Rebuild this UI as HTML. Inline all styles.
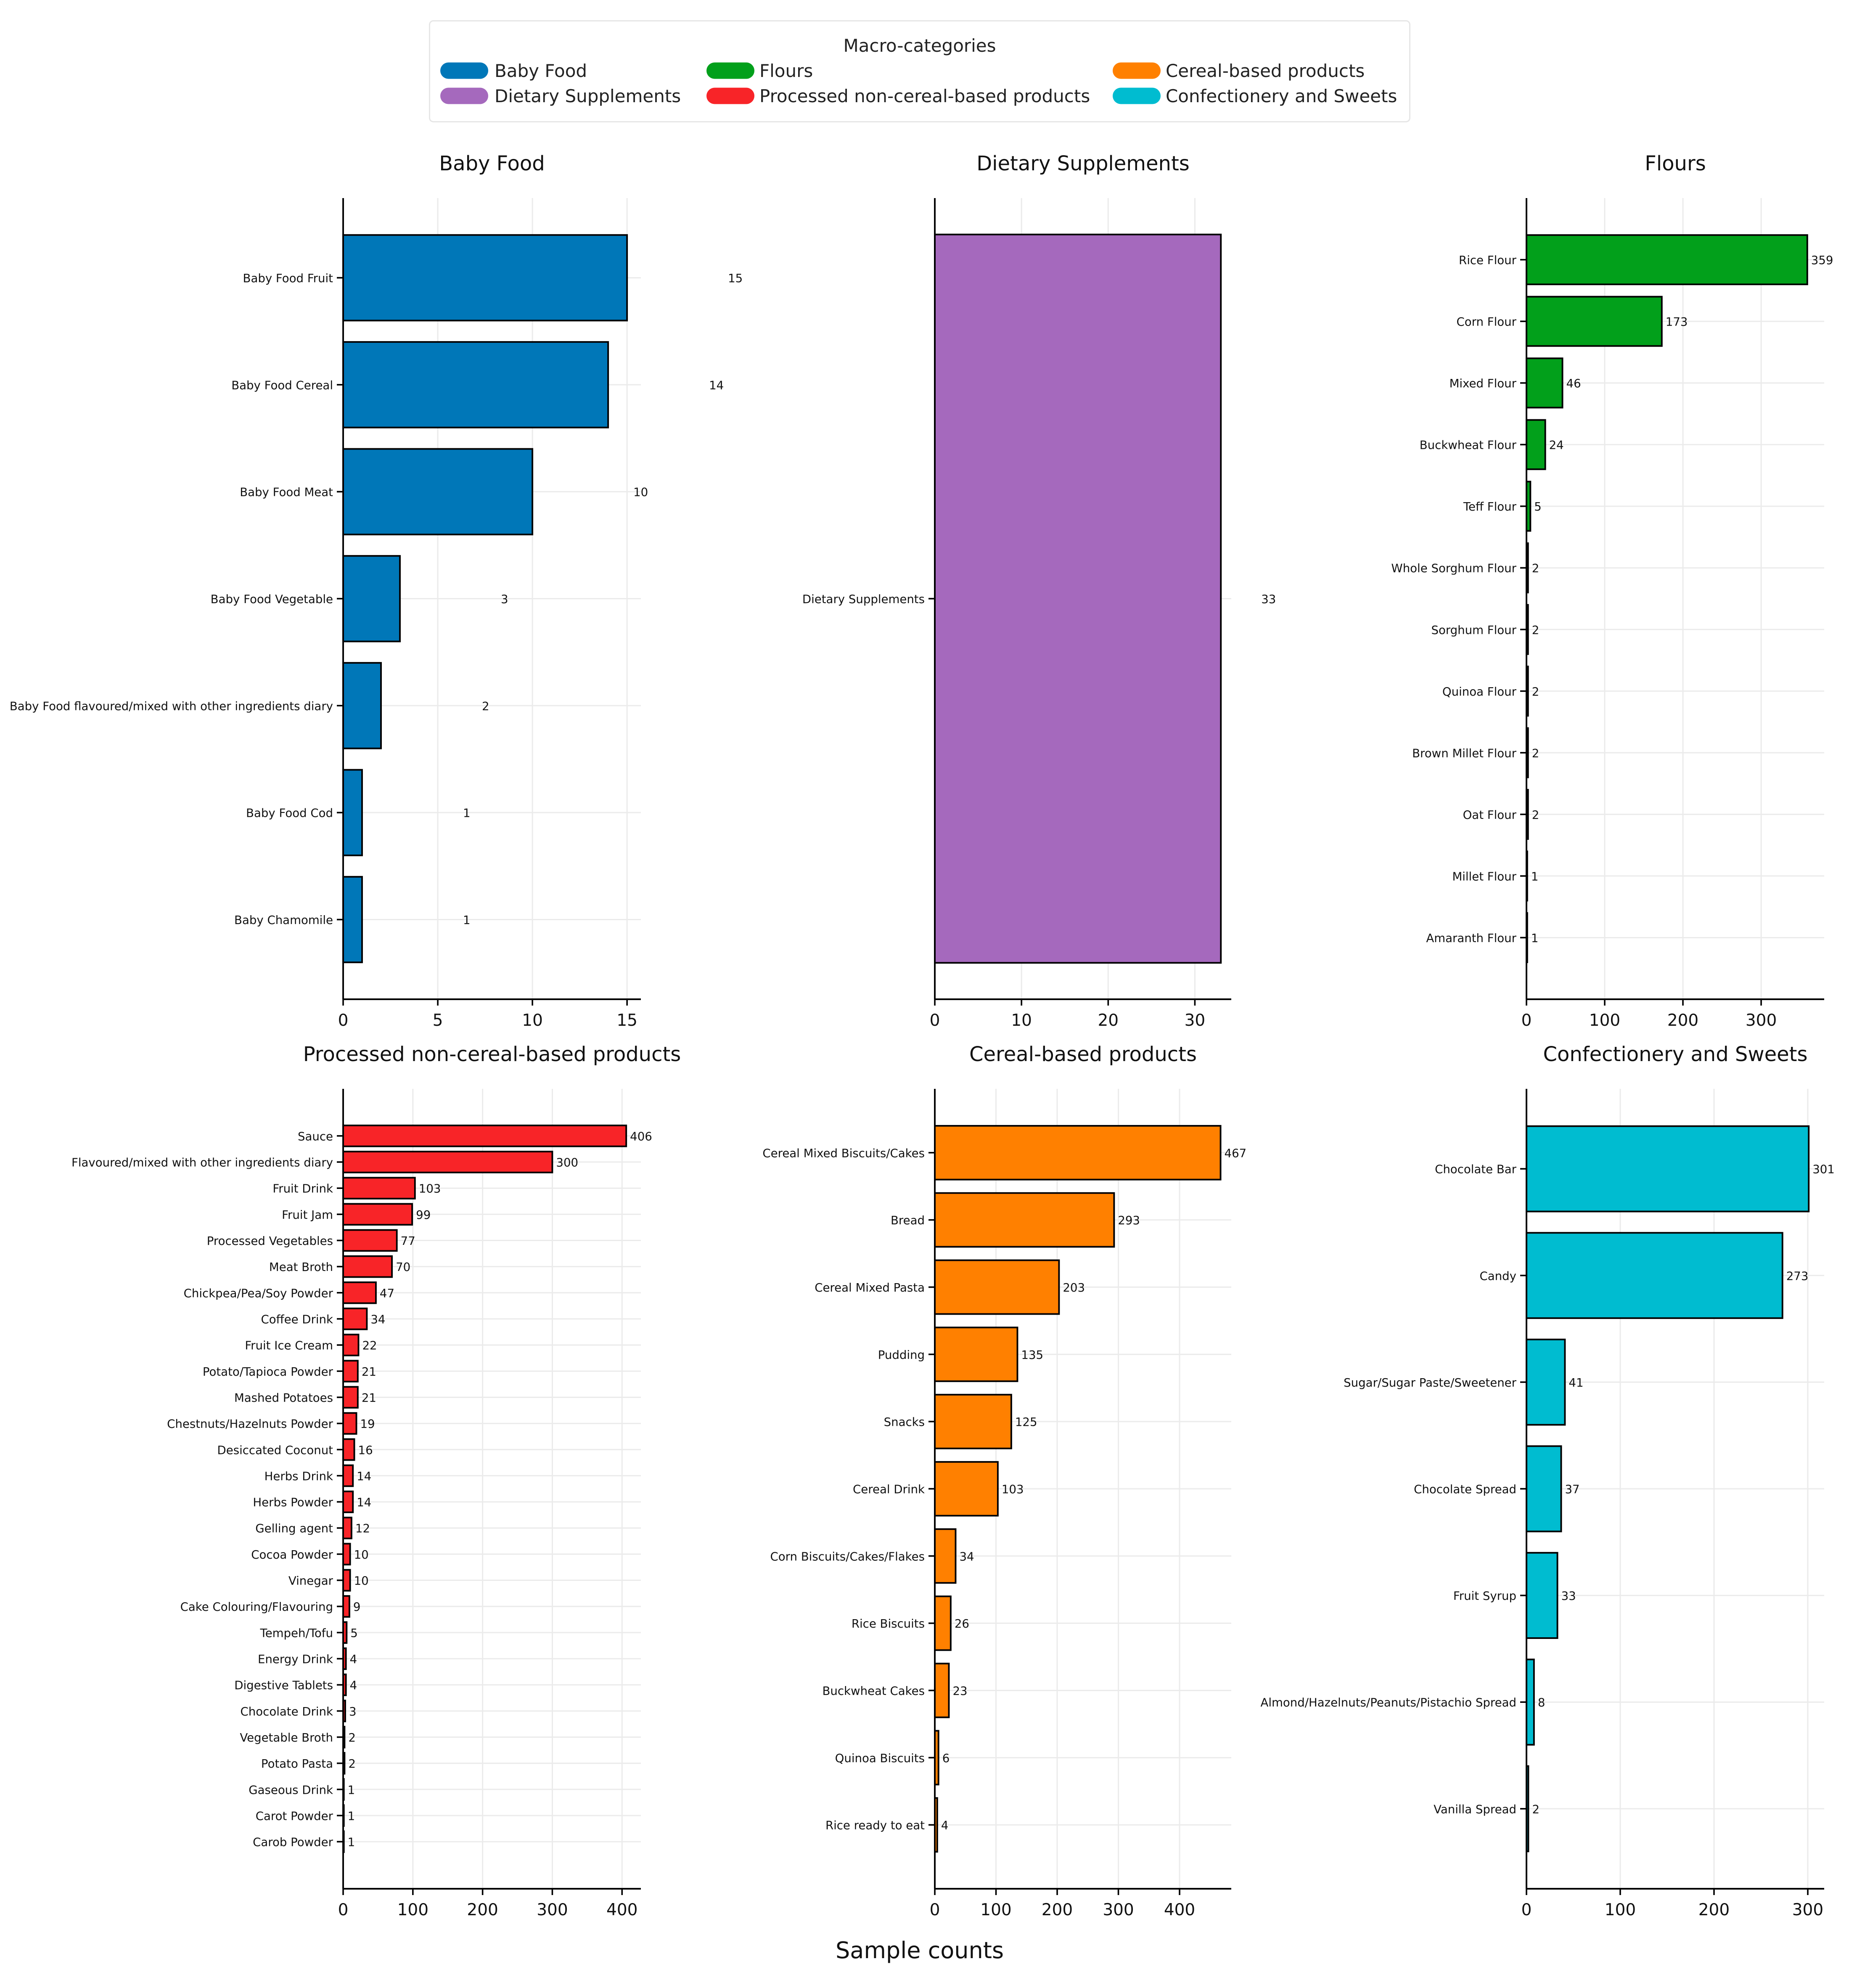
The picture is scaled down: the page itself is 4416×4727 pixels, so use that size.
<!DOCTYPE html>
<html><head><meta charset="utf-8"><style>
html,body{margin:0;padding:0;background:#fff}
svg{display:block;font-family:"DejaVu Sans","Liberation Sans",sans-serif}
</style></head><body>
<svg id="chart" width="4416" height="4727" viewBox="0 0 1472 1575.67" xmlns="http://www.w3.org/2000/svg">
<rect x="0" y="0" width="1472" height="1576" fill="#fff"/>
<g>
<rect x="340.5" y="16.5" width="777" height="80" rx="3" fill="#fff" stroke="#e6e6e6"/>
<text x="729" y="41" font-size="14" text-anchor="middle" fill="#222">Macro-categories</text>
<g><rect x="349" y="49.5" width="38" height="13" rx="6.5" fill="#0077b8"/><text x="392" y="61" font-size="14" fill="#222">Baby Food</text></g>
<g><rect x="560" y="49.5" width="38" height="13" rx="6.5" fill="#02a01b"/><text x="602" y="61" font-size="14" fill="#222">Flours</text></g>
<g><rect x="882" y="49.5" width="38" height="13" rx="6.5" fill="#ff8000"/><text x="924" y="61" font-size="14" fill="#222">Cereal-based products</text></g>
<g><rect x="349" y="69.5" width="38" height="13" rx="6.5" fill="#a569bd"/><text x="392" y="81" font-size="14" fill="#222">Dietary Supplements</text></g>
<g><rect x="560" y="69.5" width="38" height="13" rx="6.5" fill="#f82428"/><text x="602" y="81" font-size="14" fill="#222">Processed non-cereal-based products</text></g>
<g><rect x="882" y="69.5" width="38" height="13" rx="6.5" fill="#00bcd0"/><text x="924" y="81" font-size="14" fill="#222">Confectionery and Sweets</text></g>
</g>
<text x="729" y="1552" font-size="18" text-anchor="middle" fill="#111">Sample counts</text>
</svg>
<script>
const babyCats=["Baby Food Fruit","Baby Food Cereal","Baby Food Meat","Baby Food Vegetable","Baby Food flavoured/mixed with other ingredients diary","Baby Food Cod","Baby Chamomile"];
const babyVals=[15,14,10,3,2,1,1];
const babyTicks=[0,5,10,15];
const dietCats=["Dietary Supplements"];
const dietVals=[33];
const dietTicks=[0,10,20,30];
const flourCats=["Rice Flour","Corn Flour","Mixed Flour","Buckwheat Flour","Teff Flour","Whole Sorghum Flour","Sorghum Flour","Quinoa Flour","Brown Millet Flour","Oat Flour","Millet Flour","Amaranth Flour"];
const flourVals=[359,173,46,24,5,2,2,2,2,2,1,1];
const flourTicks=[0,100,200,300];
const procCats=["Sauce","Flavoured/mixed with other ingredients diary","Fruit Drink","Fruit Jam","Processed Vegetables","Meat Broth","Chickpea/Pea/Soy Powder","Coffee Drink","Fruit Ice Cream","Potato/Tapioca Powder","Mashed Potatoes","Chestnuts/Hazelnuts Powder","Desiccated Coconut","Herbs Drink","Herbs Powder","Gelling agent","Cocoa Powder","Vinegar","Cake Colouring/Flavouring","Tempeh/Tofu","Energy Drink","Digestive Tablets","Chocolate Drink","Vegetable Broth","Potato Pasta","Gaseous Drink","Carot Powder","Carob Powder"];
const procVals=[406,300,103,99,77,70,47,34,22,21,21,19,16,14,14,12,10,10,9,5,4,4,3,2,2,1,1,1];
const procTicks=[0,100,200,300,400];
const cerealCats=["Cereal Mixed Biscuits/Cakes","Bread","Cereal Mixed Pasta","Pudding","Snacks","Cereal Drink","Corn Biscuits/Cakes/Flakes","Rice Biscuits","Buckwheat Cakes","Quinoa Biscuits","Rice ready to eat"];
const cerealVals=[467,293,203,135,125,103,34,26,23,6,4];
const cerealTicks=[0,100,200,300,400];
const confCats=["Chocolate Bar","Candy","Sugar/Sugar Paste/Sweetener","Chocolate Spread","Fruit Syrup","Almond/Hazelnuts/Peanuts/Pistachio Spread","Vanilla Spread"];
const confVals=[301,273,41,37,33,8,2];
const confTicks=[0,100,200,300];

const NS="http://www.w3.org/2000/svg";
const svg=document.getElementById('chart');
function mk(tag,attrs,parent){const e=document.createElementNS(NS,tag);for(const k in attrs)e.setAttribute(k,attrs[k]);parent.appendChild(e);return e;}

function panel(p){
  const g=mk('g',{},svg);
  
  
  const x=v=>p.x0+(v/p.xmax)*(p.x1-p.x0);
  const n=p.cats.length;
  const lo=-p.m, hi=n-1+p.m;
  const y=i=>p.y0+(i-lo)/(hi-lo)*(p.y1-p.y0);
  const band=(p.y1-p.y0)/(hi-lo);
  const t=mk('text',{x:(p.x0+p.x1)/2,y:p.y0-22,'font-size':16,'text-anchor':'middle',fill:'#111'},g);
  t.textContent=p.title;
  
  
  p.ticks.forEach(v=>{
    const gl=mk('line',{x1:x(v),x2:x(v),y1:p.y0,y2:p.y1,stroke:'#ebebeb','stroke-width':1},g);
    
    
  });
  p.cats.forEach((c,i)=>{
    const hl=mk('line',{x1:p.x0,x2:p.x1,y1:y(i),y2:y(i),stroke:'#ebebeb','stroke-width':1},g);
    
    
  });
  p.cats.forEach((c,i)=>{
    const v=p.vals[i];
    const r=mk('rect',{x:p.x0,y:y(i)-band*0.4,width:x(v)-p.x0,height:band*0.8,fill:p.color,stroke:'#000','stroke-width':1.3},g);
    
    
    const tk=mk('line',{x1:p.x0-5,x2:p.x0,y1:y(i),y2:y(i),stroke:'#000','stroke-width':1.2},g);
    
    
    const lb=mk('text',{x:p.x0-8,y:y(i)+3.5,'font-size':9.2,'text-anchor':'end',fill:'#111'},g);
    lb.textContent=c;
    
    
    const vl=mk('text',{x:x(v)+p.off,y:y(i)+3.5,'font-size':9.2,fill:'#111'},g);
    vl.textContent=v;
    
    
  });
  const ya=mk('line',{x1:p.x0,x2:p.x0,y1:p.y0,y2:p.y1,stroke:'#000','stroke-width':1.3},g);
  
  
  const xa=mk('line',{x1:p.x0,x2:p.x1,y1:p.y1,y2:p.y1,stroke:'#000','stroke-width':1.3},g);
  
  
  p.ticks.forEach(v=>{
    const tk=mk('line',{x1:x(v),x2:x(v),y1:p.y1,y2:p.y1+5,stroke:'#000','stroke-width':1.2},g);
    
    
    const tl=mk('text',{x:x(v),y:p.y1+21,'font-size':13,'text-anchor':'middle',fill:'#111'},g);
    tl.textContent=v;
    
    
  });
}
const T0=157,T1=792,B0=863,B1=1497;
panel({name:'baby-food-panel',title:'Baby Food',cats:babyCats,vals:babyVals,ticks:babyTicks,color:'#0077b8',x0:272,x1:508,xmax:15.73,y0:T0,y1:T1,m:0.745,off:80});
panel({name:'dietary-supplements-panel',title:'Dietary Supplements',cats:dietCats,vals:dietVals,ticks:dietTicks,color:'#a569bd',x0:741,x1:976,xmax:34.2,y0:T0,y1:T1,m:0.44,off:32});
panel({name:'flours-panel',title:'Flours',cats:flourCats,vals:flourVals,ticks:flourTicks,color:'#02a01b',x0:1210,x1:1446,xmax:380.6,y0:T0,y1:T1,m:1.0,off:3});
panel({name:'processed-panel',title:'Processed non-cereal-based products',cats:procCats,vals:procVals,ticks:procTicks,color:'#f82428',x0:272,x1:508,xmax:427,y0:B0,y1:B1,m:1.8,off:3});
panel({name:'cereal-panel',title:'Cereal-based products',cats:cerealCats,vals:cerealVals,ticks:cerealTicks,color:'#ff8000',x0:741,x1:976,xmax:484.5,y0:B0,y1:B1,m:0.95,off:3});
panel({name:'confectionery-panel',title:'Confectionery and Sweets',cats:confCats,vals:confVals,ticks:confTicks,color:'#00bcd0',x0:1210,x1:1446,xmax:317.5,y0:B0,y1:B1,m:0.75,off:3});
</script>
</body></html>
